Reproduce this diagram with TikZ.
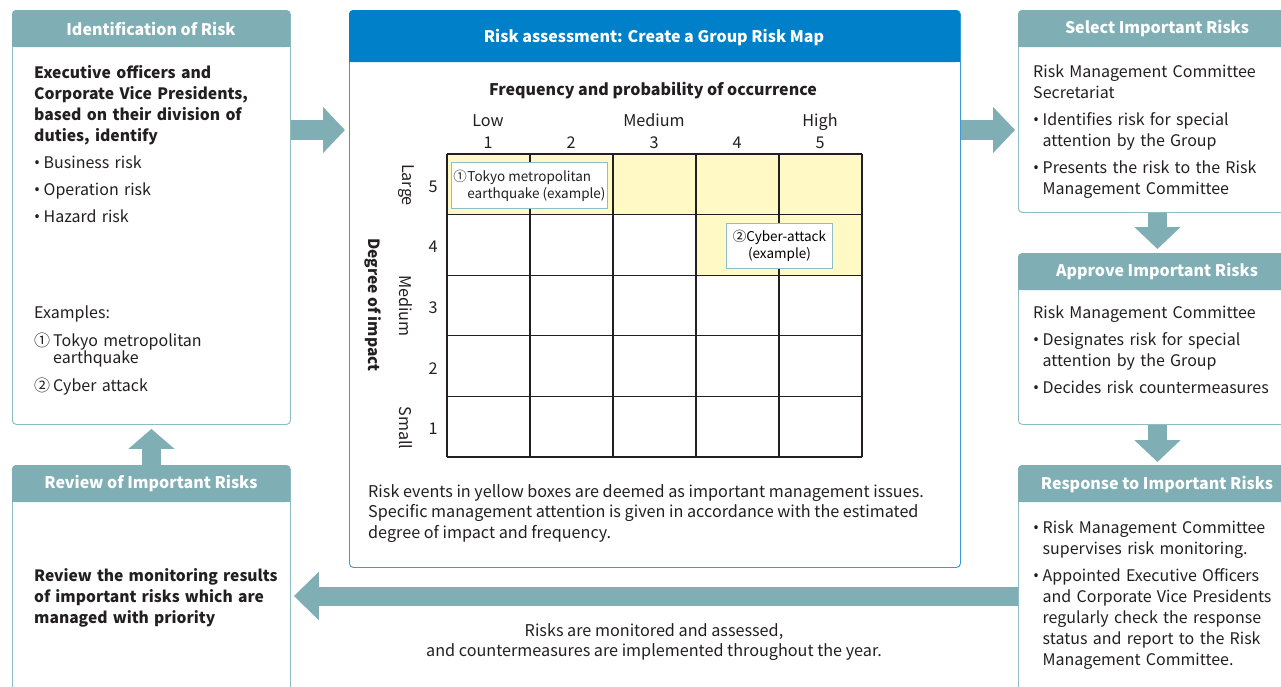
\documentclass[tikz,border=0pt]{standalone}
\usepackage{fontspec}
\setmainfont{Noto Sans CJK JP}
\newfontfamily\bulfont{Noto Sans}
\usetikzlibrary{arrows.meta,positioning}
\definecolor{Ink}{HTML}{231F20}
\definecolor{Teal}{HTML}{7FAFB5}
\definecolor{TealLine}{HTML}{8EBCC3}
\definecolor{Blue}{HTML}{0080C8}
\definecolor{BlueLine}{HTML}{3A9AD6}
\definecolor{Cell}{HTML}{FFF9C6}
\definecolor{TagLine}{HTML}{8DBFCB}
\newcommand{\bul}{\par\hangindent=9.5pt\hangafter=1\makebox[9.5pt][l]{\bulfont\char"2022}}
\tikzset{
  panel/.style={draw=TealLine,fill=white,line width=0.9pt,rounded corners=4pt,anchor=north west,inner sep=0pt},
  bluepanel/.style={panel,draw=BlueLine},
  headtext/.style={text=white,font=\fontsize{16}{18}\selectfont\bfseries},
  body/.style={anchor=north west,align=left,text=Ink,inner sep=0pt,text width=250pt,font=\fontsize{16}{21}\selectfont\setlength{\parskip}{6pt}},
  note/.style={text=Ink,inner sep=0pt,font=\fontsize{16.2}{20.5}\selectfont},
  blockarrow/.style={draw=Teal,line width=20pt,-{Triangle[length=22pt,width=45pt]}},
  gridline/.style={draw=Ink,line width=1.1pt},
  tag/.style={draw=TagLine,fill=white,line width=0.9pt,inner sep=0pt,font=\fontsize{13}{16}\selectfont}
}
\begin{document}
\begin{tikzpicture}[x=1pt,y=-1pt]
  \useasboundingbox (0,0) rectangle (1281,686);
  \clip (0,0) rectangle (1281,686);
  % panels
  \node[panel,minimum width=278pt,minimum height=414pt] (ident) at (12,10) {};
  \node[panel,minimum width=278pt,minimum height=260pt] (review) at (12,465) {};
  \node[bluepanel,minimum width=611pt,minimum height=557pt] (assess) at (349,10) {};
  \node[panel,minimum width=278pt,minimum height=202pt] (select) at (1018,10) {};
  \node[panel,minimum width=278pt,minimum height=171pt] (approve) at (1018,253) {};
  \node[panel,minimum width=278pt,minimum height=260pt] (response) at (1018,465) {};
  % headers
  \foreach \x/\y/\w/\h/\c in {12/10/278/37/Teal,12/465/278/37/Teal,349/10/611/52/Blue,1018/10/278/37/Teal,1018/253/278/37/Teal,1018/465/278/37/Teal} {
    \fill[\c,rounded corners=4pt] (\x,\y) rectangle ++(\w,\h);
    \fill[\c] (\x,\y+10) rectangle ++(\w,\h-10);
  }
  \node[headtext] (identhead) at (151,28.5) {Identification of Risk};
  \node[headtext] (reviewhead) at (151,483.5) {Review of Important Risks};
  \node[headtext] (assesshead) at (654,38) {Risk assessment: Create a Group Risk Map};
  \node[headtext] (selecthead) at (1157,29) {Select Important Risks};
  \node[headtext] (approvehead) at (1157,272) {Approve Important Risks};
  \node[headtext] (responsehead) at (1157,484) {Response to Important Risks};
  % left texts
  \node[body] (identtext) at (34,65) {{\fontsize{15.7}{21}\selectfont\bfseries Executive officers and\newline Corporate Vice Presidents,\newline based on their division of\newline duties, identify\par}
    \bul Business risk
    \bul Operation risk
    \bul Hazard risk\par};
  \node[body,font=\fontsize{16}{17.5}\selectfont\setlength{\parskip}{10pt}] (identex) at (34,306) {Examples:
    \par\hangindent=19pt\hangafter=1\makebox[19pt][l]{①}Tokyo metropolitan\newline earthquake
    \par\makebox[19pt][l]{②}Cyber attack\par};
  \node[body,font=\fontsize{15.6}{21}\selectfont\bfseries] (reviewtext) at (34,568) {Review the monitoring results\\of important risks which are\\managed with priority};
  % right texts
  \node[body] (selecttext) at (1033,65) {Risk Management Committee\\Secretariat
    \bul Identifies risk for special\newline attention by the Group
    \bul Presents the risk to the Risk\newline Management Committee\par};
  \node[body] (approvetext) at (1033,306) {Risk Management Committee
    \bul Designates risk for special\newline attention by the Group
    \bul Decides risk countermeasures\par};
  \node[body] (responsetext) at (1033,506) {\bul Risk Management Committee\newline supervises risk monitoring.
    \bul Appointed Executive Officers\newline and Corporate Vice Presidents\newline regularly check the response\newline status and report to the Risk\newline Management Committee.\par};
  % risk map
  \fill[Cell] (447,154) rectangle (862,214.6);
  \fill[Cell] (696,214.6) rectangle (862,275.2);
  \foreach \i in {0,...,5} {
    \draw[gridline] (447+83*\i,154) -- (447+83*\i,457);
    \draw[gridline] (447,154+60.6*\i) -- (862,154+60.6*\i);
  }
  \node[note,font=\fontsize{16}{20}\selectfont\bfseries] (freq) at (653,91) {Frequency and probability of occurrence};
  \node[note,anchor=base] (low) at (488,126.5) {Low};
  \node[note,anchor=base] (medium) at (654,126.5) {Medium};
  \node[note,anchor=base] (high) at (820,126.5) {High};
  \foreach \n in {1,...,5} {
    \node[note,anchor=base] (col\n) at (405+83*\n,148.5) {\n};
    \node[note] (row\n) at (433,429-60.6*\n+60.6) {\n};
  }
  \node[note,rotate=-90] (large) at (406,185) {Large};
  \node[note,rotate=-90] (mid) at (406,306) {Medium};
  \node[note,rotate=-90] (small) at (406,428) {Small};
  \node[note,rotate=-90,font=\fontsize{15.5}{20}\selectfont\bfseries] (degree) at (373,305) {Degree of impact};
  \node[tag,anchor=north west,minimum width=156pt,minimum height=46pt] (tagone) at (451,162) {};
  \node[note,font=\fontsize{13.5}{17}\selectfont,align=left] (tagonetext) at (tagone) {\makebox[14pt][l]{①}Tokyo metropolitan\\\hspace*{14pt}earthquake (example)};
  \node[tag,anchor=north west,minimum width=106pt,minimum height=45pt,align=center,font=\fontsize{13.5}{17}\selectfont] (tagtwo) at (726,223) {②Cyber-attack\\(example)};
  \node[note,anchor=north west,align=left] (mapnote) at (368,484) {Risk events in yellow boxes are deemed as important management issues.\\Specific management attention is given in accordance with the estimated\\degree of impact and frequency.};
  \node[note,align=center] (yearnote) at (654,642) {Risks are monitored and assessed,\\and countermeasures are implemented throughout the year.};
  % arrows
  \draw[blockarrow] ([yshift=-120pt]ident.north east) -- ([xshift=-4pt,yshift=-120pt]assess.north west);
  \draw[blockarrow] ([yshift=-120pt]assess.north east) -- ([xshift=-3pt,yshift=-120pt]select.north west);
  \draw[blockarrow,line width=19pt] (select.south) -- ([yshift=4pt]approve.north);
  \draw[blockarrow,line width=19pt] (approve.south) -- ([yshift=3pt]response.north);
  \draw[blockarrow,line width=19pt,-{Triangle[length=20pt,width=45pt]}] (review.north) -- ([yshift=-4pt]ident.south);
  \draw[blockarrow,line width=19pt,-{Triangle[length=25pt,width=47pt]}] ([yshift=-131pt]response.north west) -- ([xshift=3pt,yshift=-131pt]review.north east);
\end{tikzpicture}
\end{document}
